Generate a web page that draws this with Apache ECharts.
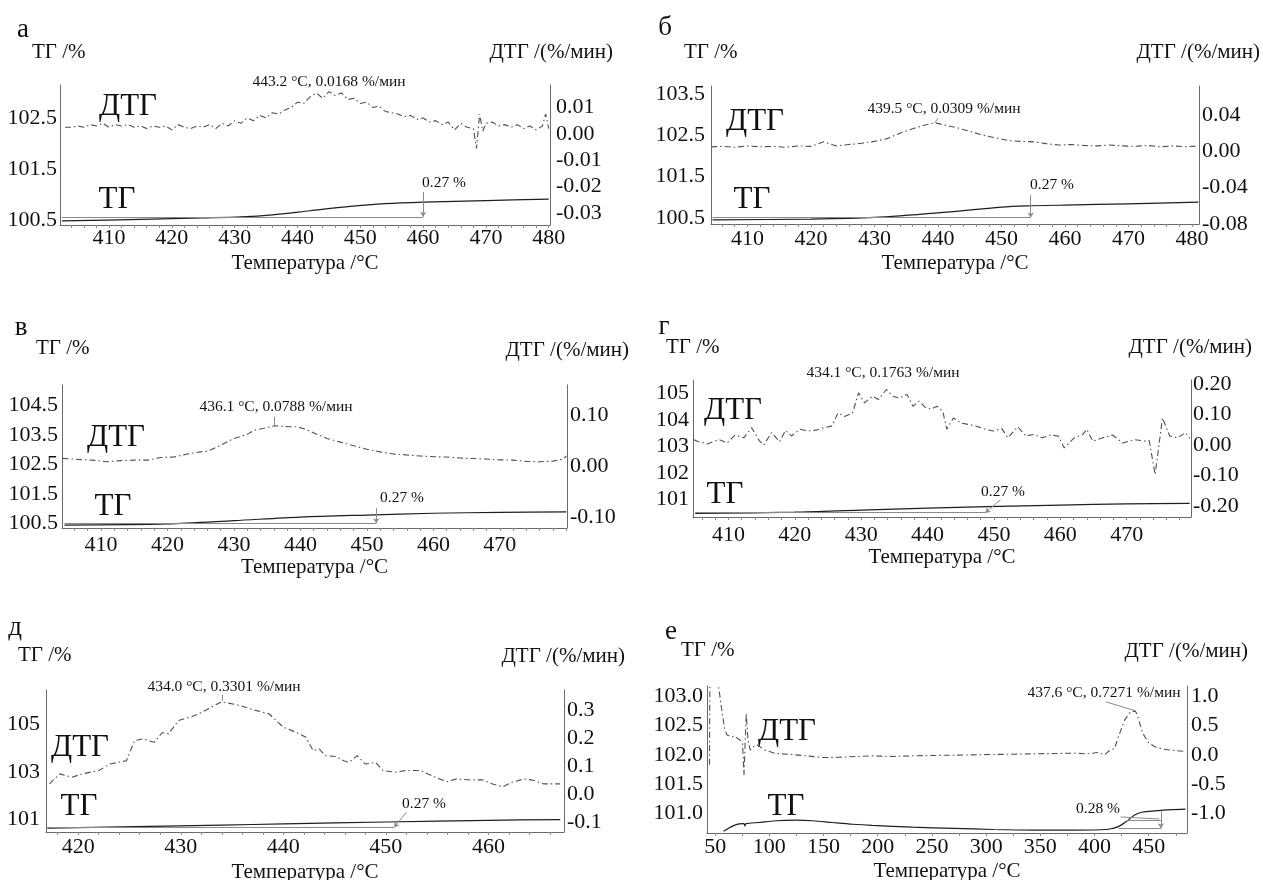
<!DOCTYPE html>
<html>
<head>
<meta charset="utf-8">
<script src="https://cdn.jsdelivr.net/npm/echarts@6/dist/echarts.min.js"></script>
<style>
  html, body { margin: 0; background: #fff; }
  #main { width: 1263px; height: 880px; }
</style>
</head>
<body>
<div id="main"></div>
<script>
  // ---- data: [температура, значение] ----
  // а
  const dtgA = [[403,.0025],[404,.0025],[405,.003],[406,.0025],[407,.0035],[408,.003],[409,.004],[410,.0025],[411,.0035],[412,.003],[413,.0035],[414,.0025],[415,.003],[416,.002],[417,.003],[418,.0025],[419,.003],[420,.0015],[421,.0035],[422,.0025],[423,.002],[424,.003],[425,.0025],[426,.0035],[427,.002],[428,.004],[429,.003],[430,.005],[431,.004],[432,.006],[433,.005],[434,.007],[435,.006],[436,.008],[437,.0075],[438,.009],[439,.010],[440,.012],[441,.0115],[442,.014],[443,.0155],[444,.0135],[445,.016],[446,.0145],[447,.0155],[448,.013],[449,.0135],[450,.0115],[451,.012],[452,.010],[453,.0105],[454,.0085],[455,.008],[456,.0075],[457,.0065],[458,.007],[459,.0055],[460,.006],[461,.0045],[462,.005],[463,.0035],[464,.0045],[465,.0015],[466,.004],[467,.0025],[468,.002],[468.5,-.0055],[469,.0075],[469.5,.001],[470,.004],[471,.0045],[472,.003],[473,.0035],[474,.0025],[475,.0035],[476,.002],[477,.003],[478,.0015],[479,.003],[479.5,.0075],[480,.002]];
  const tgA = [[402.5,100.48],[415,100.51],[425,100.54],[431,100.56],[436,100.6],[442,100.68],[448,100.76],[454,100.82],[460,100.85],[470,100.88],[480,100.91]];
  // б
  const dtgB = [[404.3,.005],[406,.0055],[408,.0045],[410,.006],[412,.005],[414,.0055],[416,.0045],[418,.006],[420,.0055],[422,.0105],[424,.006],[426,.0075],[428,.009],[430,.011],[432,.014],[434,.02],[436,.025],[438,.029],[439.5,.0316],[441,.029],[443,.026],[445,.022],[447,.018],[449,.015],[451,.012],[453,.011],[455,.0105],[457,.0085],[459,.007],[461,.0075],[463,.0065],[465,.006],[467,.007],[469,.006],[471,.0055],[473,.0065],[475,.005],[477,.006],[479,.005],[481,.006]];
  const tgB = [[404.5,100.45],[420,100.47],[430,100.51],[440,100.62],[450,100.76],[454,100.79],[460,100.81],[470,100.84],[481,100.88]];
  // в
  const dtgV = [[404.2,.0154],[407,.013],[409,.0115],[411,.0088],[413,.011],[415,.012],[417,.012],[419,.017],[421,.018],[423,.024],[425,.028],[426,.029],[428,.041],[430,.054],[432,.062],[433,.07],[434.5,.074],[436.1,.0788],[438,.077],[439.5,.0768],[441,.071],[442.5,.062],[444,.054],[446,.047],[448,.04],[450,.033],[452,.028],[454,.024],[456,.022],[458,.02],[460,.0185],[462,.018],[464,.016],[466,.015],[468,.014],[470,.0125],[472,.012],[474,.0095],[476,.0088],[478,.01],[479.5,.014],[480,.02]];
  const tgV = [[404.5,100.45],[420,100.49],[430,100.6],[440,100.72],[450,100.79],[460,100.85],[470,100.88],[480,100.9]];
  // г
  const dtgG = [[404.8,.018],[405.4,.012],[406.8,.004],[408.6,.018],[409.8,.007],[411,.033],[412.3,.024],[413.5,.057],[414.7,.013],[415.3,0],[416.5,.041],[417.7,.011],[418.6,.048],[419.5,.03],[420.8,.052],[422,.046],[423.2,.049],[424.4,.057],[425.6,.063],[426.5,.105],[427.5,.094],[428.7,.105],[429.6,.171],[430.5,.138],[431.7,.16],[432.6,.149],[433.8,.182],[434.8,.16],[435.7,.153],[436.9,.166],[437.8,.127],[438.7,.144],[439.6,.125],[440.5,.117],[441.4,.127],[442.3,.111],[442.9,.052],[443.9,.089],[445.1,.072],[446.3,.067],[447.5,.061],[448.7,.052],[449.9,.046],[451.2,.054],[452.1,.024],[453.6,.06],[454.8,.03],[456,.035],[457.3,.024],[458.5,.033],[459.7,.03],[460.6,-.009],[462.1,.024],[463.4,.035],[464,.052],[464.9,.013],[466.4,.024],[467.9,.033],[469.4,.007],[471.2,.018],[472.8,.013],[473.4,.015],[474.3,-.096],[475.4,.089],[476.5,.03],[477.7,.024],[478.9,.041],[479.5,.022]];
  const tgG = [[405,100.49],[420,100.53],[430,100.61],[440,100.68],[449,100.74],[460,100.8],[470,100.84],[479.5,100.86]];
  // д
  const dtgD = [[417.2,.036],[418.2,.072],[419.4,.06],[420.4,.072],[422,.084],[423.1,.107],[424.7,.119],[425.5,.191],[426.3,.197],[427.4,.185],[428.2,.22],[428.8,.215],[429.8,.263],[431.1,.277],[432.1,.293],[433.3,.317],[434,.33],[435.7,.317],[437.3,.299],[438.6,.287],[440,.239],[441.2,.221],[442.2,.203],[442.9,.155],[443.5,.161],[444.1,.137],[445.1,.134],[445.9,.119],[446.4,.113],[447.2,.137],[448,.107],[449,.113],[449.7,.084],[450.9,.078],[452,.084],[453.4,.084],[454.8,.06],[456,.044],[456.9,.054],[458.3,.05],[459.4,.051],[460.4,.036],[461.4,.026],[462.3,.042],[463.5,.054],[464.5,.048],[465.4,.036],[467,.036]];
  const tgD = [[417,100.64],[420,100.66],[434,100.77],[440,100.82],[450,100.9],[460,100.97],[467,101.0]];
  // е
  const dtgE = [[44.8,-.17],[45.2,1.6],[49,3],[53.2,1.17],[56.3,.74],[58.7,.455],[60.9,.34],[65.5,.31],[67.6,.32],[73.2,.25],[75.3,.2],[76.6,-.35],[78.7,.71],[80.3,.25],[82.4,.08],[85.4,.14],[88.6,.17],[96.2,.08],[105.4,.025],[123.9,0],[140.8,-.03],[150.6,-.046],[165.5,-.04],[180.4,-.029],[195.3,-.017],[213.9,-.029],[232.5,-.017],[251.1,-.011],[269.7,-.006],[288.3,0],[306.9,.006],[325.5,.011],[344.1,.017],[362.7,.023],[381.3,.029],[392.4,.017],[403.6,.04],[409.2,0],[414.7,.086],[418.5,.11],[422.2,.32],[427.8,.6],[433.4,.74],[437.6,.75],[439,.7],[444.5,.37],[450.1,.2],[455.7,.14],[463.1,.097],[474.3,.074],[484.7,.057]];
  const tgE = [[57.8,100.69],[68.6,100.8],[76.5,100.82],[77.5,100.78],[78.5,100.82],[90,100.84],[106,100.87],[125,100.88],[140,100.87],[158,100.84],[177,100.81],[195,100.79],[232,100.76],[270,100.74],[307,100.72],[344,100.71],[381,100.71],[411,100.72],[422,100.77],[429.6,100.86],[437,100.97],[444.5,101.02],[455.7,101.04],[470.6,101.06],[484,101.07]];

  // отметки потери массы (ТГ) и выноски пиков (ДТГ)
  const stepA = [[[402.5,100.56],[460,100.56]], [[460,101.05],[460,100.56]]];
  const stepB = [[[404.5,100.51],[454.6,100.51]], [[454.6,101.05],[454.6,100.51]]];
  const stepV = [[[404.5,100.51],[451.4,100.51]], [[451.4,101.02],[451.4,100.51]]];
  const stepG = [[[405,100.51],[448.7,100.51]], [[451,101.0],[448.7,100.51]]];
  const stepD = [[[417,100.68],[450.8,100.68]], [[452,101.3],[450.8,100.68]]];
  const stepE = [[[422,100.74],[461.2,100.74]], [[430,100.88],[461.2,100.88]], [[461.2,101.03],[461.2,100.74]], [[424,100.935],[459.7,100.9]]];
  const leadB = [[[439.5,.0316],[440,.0364]]];
  const leadV = [[[436.1,.0963],[436.1,.0795]]];
  const leadG = [[[433.7,.22],[434.1,.18]]];
  const leadD = [[[434,.355],[434,.333]]];
  const leadE = [[[410.3,.91],[437.6,.755]]];

  // подписи
  const letters = ['а', 'б', 'в', 'г', 'д', 'е'];
  const peakText = ['443.2 °C, 0.0168 %/мин', '439.5 °C, 0.0309 %/мин', '436.1 °C, 0.0788 %/мин',
                    '434.1 °C, 0.1763 %/мин', '434.0 °C, 0.3301 %/мин', '437.6 °C, 0.7271 %/мин'];
  const stepText = ['0.27 %', '0.27 %', '0.27 %', '0.27 %', '0.27 %', '0.28 %'];

  // оси
  const xLabA = [410,420,430,440,450,460,470,480];
  const xLabV = [410,420,430,440,450,460,470];
  const xLabD = [420,430,440,450,460];
  const xLabE = [50,100,150,200,250,300,350,400,450];
  const ylA = [100.5,101.5,102.5], yrA = [-0.03,-0.02,-0.01,0,0.01];
  const ylB = [100.5,101.5,102.5,103.5], yrB = [-0.08,-0.04,0,0.04];
  const ylV = [100.5,101.5,102.5,103.5,104.5], yrV = [-0.1,0,0.1];
  const ylG = [101,102,103,104,105], yrG = [-0.2,-0.1,0,0.1,0.2];
  const ylD = [101,103,105], yrD = [-0.1,0,0.1,0.2,0.3];
  const ylE = [101,101.5,102,102.5,103], yrE = [-1,-0.5,0,0.5,1];

  const FONT = '"Liberation Serif", "Times New Roman", serif';

  function range(a, b, s) { const r = []; for (let v = a; v <= b + 1e-9; v += s) r.push(+v.toFixed(3)); return r; }

  const panels = [
    { grid: [60, 85, 490, 140], x: [402.2, 480.2], xl: xLabA, xt: range(404, 480, 2), xm: 2, xg: 27.5,
      yl: [100.40, 103.15, ylA, 1, 3], yr: [-0.0345, 0.0185, yrA, 2, 6],
      dtg: dtgA, tg: tgA, step: stepA, lead: [],
      pos: { let: [23, 30], tl: [32, 52], tr: [613, 52], d: [128, 107], t: [117, 200], pk: [329, 82], st: [422, 183] } },
    { grid: [711, 86, 488, 138], x: [404.27, 481.09], xl: xLabA, xt: range(406, 480, 2), xm: 4, xg: 28.5,
      yl: [100.35, 103.7, ylB, 1, 6], yr: [-0.08, 0.072, yrB, 2, 3],
      dtg: dtgB, tg: tgB, step: stepB, lead: leadB,
      pos: { let: [665, 28], tl: [684, 52], tr: [1260, 52], d: [755, 122], t: [752, 200], pk: [944, 109], st: [1030, 185] } },
    { grid: [62, 385, 505, 143], x: [404.13, 480.1], xl: xLabV, xt: range(406, 480, 2), xm: 6, xg: 28.5,
      yl: [100.35, 105.2, ylV, 1, 4], yr: [-0.12, 0.158, yrV, 2, 3],
      dtg: dtgV, tg: tgV, step: stepV, lead: leadV,
      pos: { let: [21, 328], tl: [36, 348], tr: [629, 350], d: [116, 438], t: [113, 507], pk: [276, 407], st: [380, 498] } },
    { grid: [693, 380, 498, 137], x: [404.66, 479.7], xl: xLabV, xt: range(406, 478, 2), xm: 7, xg: 28,
      yl: [100.35, 105.5, ylG, 0, 4], yr: [-0.235, 0.213, yrG, 2, 2],
      dtg: dtgG, tg: tgG, step: stepG, lead: leadG,
      pos: { let: [664, 327], tl: [666, 347], tr: [1252, 347], d: [733, 411], t: [725, 495], pk: [883, 373], st: [981, 492] } },
    { grid: [46, 690, 518, 142], x: [416.86, 467.37], xl: xLabD, xt: range(418, 466, 2), xm: 4, xg: 29.5,
      yl: [100.48, 106.43, ylD, 0, 6], yr: [-0.136, 0.372, yrD, 1, 3],
      dtg: dtgD, tg: tgD, step: stepD, lead: leadD,
      pos: { let: [15, 628], tl: [18, 655], tr: [625, 656], d: [80, 748], t: [79, 807], pk: [224, 687], st: [402, 804] } },
    { grid: [707, 686, 480, 147], x: [42.5, 485.3], xl: xLabE, xt: range(50, 475, 25), xm: 3, xg: 27.5,
      yl: [100.66, 103.18, ylE, 1, 4], yr: [-1.34, 1.18, yrE, 1, 4],
      dtg: dtgE, tg: tgE, step: stepE, lead: leadE,
      pos: { let: [671, 632], tl: [681, 650], tr: [1248, 651], d: [787, 732], t: [786, 807], pk: [1104, 693], st: [1076, 809] } }
  ];

  const grid = [], xAxis = [], yAxis = [], series = [], graphic = [];
  const axisLine = { show: true, onZero: false, lineStyle: { color: '#6a6a6a', width: 1 } };
  const labelStyle = { color: '#111', fontFamily: FONT, fontSize: 22 };

  function segLine(segs, arrowIdx) {
    return {
      silent: true, animation: false,
      symbol: 'none',
      label: { show: false },
      lineStyle: { color: '#8a8a8a', width: 1, type: 'solid' },
      emphasis: { disabled: true },
      data: segs.map((s, k) => [
        { coord: s[0], symbol: 'none' },
        { coord: s[1], symbol: arrowIdx.includes(k) ? 'arrow' : 'none', symbolSize: 5 }
      ])
    };
  }

  panels.forEach((p, i) => {
    grid.push({ left: p.grid[0], top: p.grid[1], width: p.grid[2], height: p.grid[3], containLabel: false, outerBoundsMode: 'none' });
    xAxis.push({
      type: 'value', gridIndex: i, position: 'bottom', min: p.x[0], max: p.x[1],
      axisLine: axisLine, splitLine: { show: false },
      axisTick: { show: true, customValues: p.xt, length: 3, lineStyle: { color: '#8a8a8a' } },
      axisLabel: Object.assign({ customValues: p.xl, margin: p.xm, formatter: v => String(v) }, labelStyle),
      name: 'Температура /°C', nameLocation: 'middle', nameGap: p.xg,
      nameTextStyle: { color: '#111', fontFamily: FONT, fontSize: 21 }
    });
    const yl = p.yl, yr = p.yr;
    yAxis.push({
      type: 'value', gridIndex: i, position: 'left', min: yl[0], max: yl[1],
      axisLine: axisLine, axisTick: { show: false }, splitLine: { show: false },
      axisLabel: Object.assign({ customValues: yl[2], margin: yl[4], formatter: v => v.toFixed(yl[3]) }, labelStyle)
    });
    yAxis.push({
      type: 'value', gridIndex: i, position: 'right', min: yr[0], max: yr[1],
      axisLine: axisLine, axisTick: { show: false }, splitLine: { show: false },
      axisLabel: Object.assign({ customValues: yr[2], margin: yr[4], formatter: v => v.toFixed(yr[3]) }, labelStyle)
    });
    series.push({
      name: 'ДТГ ' + letters[i], type: 'line', xAxisIndex: i, yAxisIndex: 2 * i + 1,
      data: p.dtg, showSymbol: false, symbol: 'none', clip: true,
      lineStyle: { color: '#505050', width: 1.1, type: [6, 3, 1.5, 3] },
      markLine: segLine(p.lead, [1])
    });
    series.push({
      name: 'ТГ ' + letters[i], type: 'line', xAxisIndex: i, yAxisIndex: 2 * i, smooth: 0.3,
      data: p.tg, showSymbol: false, symbol: 'none', clip: true,
      lineStyle: { color: '#1e1e1e', width: 1.2 },
      markLine: segLine(p.step, i === 5 ? [2] : [1])
    });

    const q = p.pos;
    const txt = (xy, text, size, align) => ({
      type: 'text', x: xy[0], y: xy[1], silent: true,
      style: { text: text, font: size + 'px ' + FONT, fill: '#111', align: align, verticalAlign: 'middle',
               textAlign: align, textVerticalAlign: 'middle' }
    });
    graphic.push(txt(q.let, letters[i], 27, 'center'));
    graphic.push(txt(q.tl, 'ТГ /%', 21, 'left'));
    graphic.push(txt(q.tr, 'ДТГ /(%/мин)', 21, 'right'));
    graphic.push(txt(q.d, 'ДТГ', 31, 'center'));
    graphic.push(txt(q.t, 'ТГ', 31, 'center'));
    graphic.push(txt(q.pk, peakText[i], 15.5, 'center'));
    graphic.push(txt(q.st, stepText[i], 15.5, 'left'));
  });

  const chart = echarts.init(document.getElementById('main'), null, { renderer: 'canvas' });
  chart.setOption({
    animation: false,
    backgroundColor: '#fff',
    grid: grid,
    xAxis: xAxis,
    yAxis: yAxis,
    series: series,
    graphic: graphic
  });
</script>
</body>
</html>
